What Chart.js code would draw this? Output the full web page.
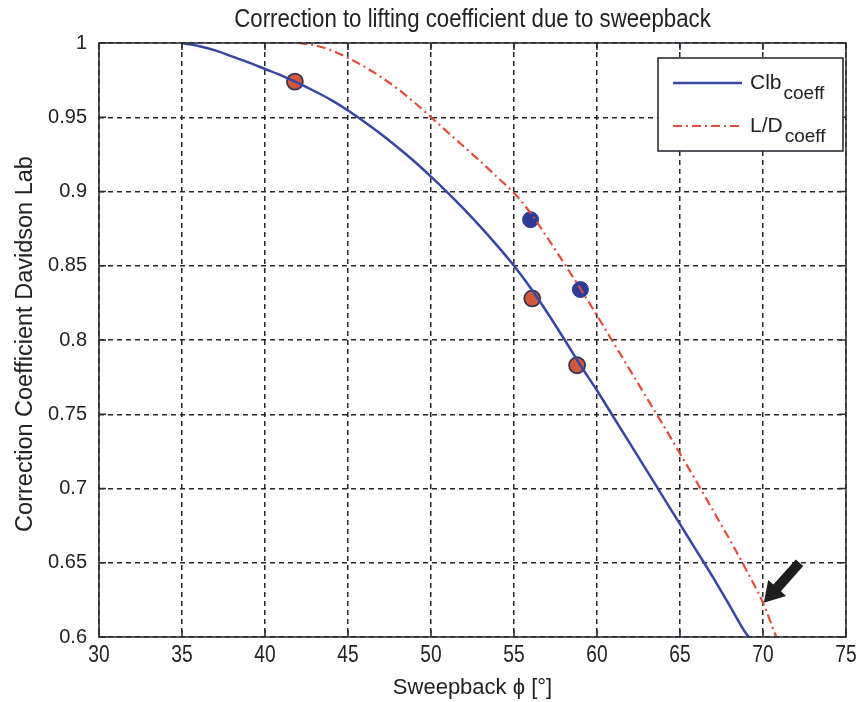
<!DOCTYPE html>
<html lang="en">
<head>
    <meta charset="UTF-8">
    <title>Correction to lifting coefficient due to sweepback</title>
    <script src="https://cdn.jsdelivr.net/npm/chart.js"></script>
    <style>
        html, body { margin: 0; padding: 0; background: #fff; }
        #wrap { width: 865px; height: 702px; }
    </style>
</head>
<body>
    <div id="wrap">
        <canvas id="sweepChart" width="865" height="702"></canvas>
    </div>

    <script>
        // Clb coefficient curve
        const clbSweep = [35, 36, 37, 38, 39, 40, 41, 42, 43, 44, 45, 46, 47, 48, 49, 50, 51, 52, 53, 54, 55, 56, 57, 58, 59, 60, 61, 62, 63, 64, 65, 66, 67, 68, 69, 69.15];
        const clbValues = [1.000, 0.998, 0.995, 0.991, 0.987, 0.9825, 0.978, 0.973, 0.9675, 0.9615, 0.9545, 0.9468, 0.9385, 0.9296, 0.9202, 0.910, 0.8993, 0.888, 0.876, 0.8634, 0.850, 0.835, 0.8185, 0.801, 0.783, 0.766, 0.748, 0.730, 0.712, 0.694, 0.676, 0.658, 0.640, 0.621, 0.602, 0.600];

        // L/D coefficient curve
        const ldSweep = [42, 43, 44, 45, 46, 47, 48, 49, 50, 51, 52, 53, 54, 55, 56, 57, 58, 59, 60, 61, 62, 63, 64, 65, 66, 67, 68, 69, 70, 70.8];
        const ldValues = [1.000, 0.9985, 0.995, 0.990, 0.984, 0.977, 0.969, 0.960, 0.950, 0.940, 0.930, 0.920, 0.9095, 0.899, 0.8855, 0.869, 0.852, 0.8345, 0.8165, 0.798, 0.7795, 0.761, 0.7425, 0.7235, 0.7045, 0.685, 0.6655, 0.645, 0.623, 0.600];

        // measured points
        const blueSweep = [56.0, 59.0];
        const blueValues = [0.881, 0.834];
        const orangeSweep = [41.8, 56.1, 58.8];
        const orangeValues = [0.974, 0.828, 0.783];

        // axis ticks
        const xTicks = [30, 35, 40, 45, 50, 55, 60, 65, 70, 75];
        const yTicks = [0.6, 0.65, 0.7, 0.75, 0.8, 0.85, 0.9, 0.95, 1];

        // arrow annotation (from -> to, in data units)
        const arrowFrom = [72.2, 0.650];
        const arrowTo = [70.05, 0.623];

        const toPoints = (xs, ys) => xs.map((x, i) => ({ x: x, y: ys[i] }));

        const BLUE = '#3746a2';
        const RED = '#df4f3b';
        const SANS = '"Liberation Sans", Arial, sans-serif';

        // draw text squeezed horizontally (the original uses a condensed face)
        function narrowText(ctx, text, x, y, squeeze) {
            ctx.save();
            ctx.translate(x, y);
            ctx.scale(squeeze, 1);
            ctx.fillText(text, 0, 0);
            ctx.restore();
        }

        // frame, ticks, texts, legend, arrow
        const decorPlugin = {
            id: 'decor',
            afterDraw(chart) {
                const ctx = chart.ctx;
                const a = chart.chartArea;
                const xs = chart.scales.x;
                const ys = chart.scales.y;
                ctx.save();

                // plot frame
                ctx.strokeStyle = '#2d2d35';
                ctx.lineWidth = 1.6;
                ctx.setLineDash([]);
                ctx.strokeRect(a.left, a.top, a.right - a.left, a.bottom - a.top);

                // inward tick marks
                ctx.beginPath();
                xTicks.forEach(t => {
                    const px = xs.getPixelForValue(t);
                    ctx.moveTo(px, a.bottom); ctx.lineTo(px, a.bottom - 7);
                    ctx.moveTo(px, a.top); ctx.lineTo(px, a.top + 7);
                });
                yTicks.forEach(t => {
                    const py = ys.getPixelForValue(t);
                    ctx.moveTo(a.left, py); ctx.lineTo(a.left + 7, py);
                    ctx.moveTo(a.right, py); ctx.lineTo(a.right - 7, py);
                });
                ctx.stroke();

                // x tick labels
                ctx.fillStyle = '#222';
                ctx.textAlign = 'center';
                ctx.textBaseline = 'alphabetic';
                ctx.font = '24px ' + SANS;
                xTicks.forEach(t => {
                    narrowText(ctx, String(t), xs.getPixelForValue(t), a.bottom + 25, 0.8);
                });

                // title
                ctx.font = '26px ' + SANS;
                narrowText(ctx, 'Correction to lifting coefficient due to sweepback', (a.left + a.right) / 2, 27, 0.855);

                // x axis title
                ctx.font = '22px ' + SANS;
                ctx.fillText('Sweepback \u03D5 [\u00B0]', (a.left + a.right) / 2, 694);

                // y axis title
                ctx.save();
                ctx.translate(32, 344);
                ctx.rotate(-Math.PI / 2);
                ctx.font = '23.5px ' + SANS;
                ctx.fillText('Correction Coefficient Davidson Lab', 0, 0);
                ctx.restore();

                // legend
                const lx = 658, ly = 58, lw = 185, lh = 93;
                ctx.fillStyle = '#fff';
                ctx.fillRect(lx, ly, lw, lh);
                ctx.strokeStyle = '#2d2d35';
                ctx.lineWidth = 1.6;
                ctx.strokeRect(lx, ly, lw, lh);

                ctx.lineWidth = 2.5;
                ctx.strokeStyle = BLUE;
                ctx.beginPath(); ctx.moveTo(673, 83); ctx.lineTo(742, 83); ctx.stroke();
                ctx.lineWidth = 2.2;
                ctx.strokeStyle = RED;
                ctx.setLineDash([9, 4, 2, 4]);
                ctx.beginPath(); ctx.moveTo(673, 126); ctx.lineTo(742, 126); ctx.stroke();
                ctx.setLineDash([]);

                ctx.fillStyle = '#222';
                ctx.textAlign = 'left';
                ctx.font = '21px ' + SANS;
                ctx.fillText('Clb', 750, 89);
                let w = ctx.measureText('Clb').width;
                ctx.font = '19px ' + SANS;
                ctx.fillText('coeff', 752 + w, 99);
                ctx.font = '21px ' + SANS;
                ctx.fillText('L/D', 750, 132);
                w = ctx.measureText('L/D').width;
                ctx.font = '19px ' + SANS;
                ctx.fillText('coeff', 752 + w, 142);

                // arrow
                const x0 = xs.getPixelForValue(arrowFrom[0]), y0 = ys.getPixelForValue(arrowFrom[1]);
                const x1 = xs.getPixelForValue(arrowTo[0]), y1 = ys.getPixelForValue(arrowTo[1]);
                const ang = Math.atan2(y1 - y0, x1 - x0);
                const len = Math.hypot(x1 - x0, y1 - y0);
                ctx.translate(x0, y0);
                ctx.rotate(ang);
                ctx.fillStyle = '#1e1e1e';
                ctx.beginPath();
                ctx.moveTo(0, -5);
                ctx.lineTo(len - 20, -5);
                ctx.lineTo(len - 20, -12);
                ctx.lineTo(len, 0);
                ctx.lineTo(len - 20, 12);
                ctx.lineTo(len - 20, 5);
                ctx.lineTo(0, 5);
                ctx.closePath();
                ctx.fill();

                ctx.restore();
            }
        };

        const ctx = document.getElementById('sweepChart').getContext('2d');
        const sweepChart = new Chart(ctx, {
            type: 'scatter',
            data: {
                datasets: [
                    {
                        label: 'Clb coeff',
                        data: toPoints(clbSweep, clbValues),
                        showLine: true,
                        borderColor: BLUE,
                        borderWidth: 2.5,
                        pointRadius: 0,
                        cubicInterpolationMode: 'monotone'
                    },
                    {
                        label: 'L/D coeff',
                        data: toPoints(ldSweep, ldValues),
                        showLine: true,
                        borderColor: RED,
                        borderWidth: 2.2,
                        borderDash: [9, 4, 2, 4],
                        pointRadius: 0,
                        cubicInterpolationMode: 'monotone'
                    },
                    {
                        label: 'points blue',
                        data: toPoints(blueSweep, blueValues),
                        showLine: false,
                        pointRadius: 8,
                        backgroundColor: '#2c3b95',
                        borderColor: '#2c3b95',
                        borderWidth: 1
                    },
                    {
                        label: 'points orange',
                        data: toPoints(orangeSweep, orangeValues),
                        showLine: false,
                        pointRadius: 8,
                        backgroundColor: '#d5583a',
                        borderColor: '#3b3452',
                        borderWidth: 1.8
                    }
                ]
            },
            options: {
                responsive: false,
                animation: false,
                layout: { padding: { top: 43, right: 19, left: 0, bottom: 0 } },
                plugins: {
                    legend: { display: false },
                    title: { display: false },
                    tooltip: { enabled: false }
                },
                scales: {
                    x: {
                        type: 'linear',
                        min: 30,
                        max: 75,
                        afterBuildTicks: (scale) => { scale.ticks = xTicks.map(v => ({ value: v })); },
                        afterFit: (scale) => { scale.height = 65; },
                        grid: { color: '#26262c', lineWidth: 1.5, drawTicks: false },
                        border: { display: false, dash: [5, 4] },
                        ticks: { display: false }
                    },
                    y: {
                        type: 'linear',
                        min: 0.6,
                        max: 1,
                        afterBuildTicks: (scale) => { scale.ticks = yTicks.map(v => ({ value: v })); },
                        afterFit: (scale) => { scale.width = 99; },
                        grid: { color: '#26262c', lineWidth: 1.5, drawTicks: false },
                        border: { display: false, dash: [5, 4] },
                        ticks: {
                            padding: 12,
                            color: '#222',
                            font: { family: SANS, size: 20 },
                            callback: (v) => String(Math.round(v * 100) / 100)
                        }
                    }
                }
            },
            plugins: [decorPlugin]
        });
    </script>
</body>
</html>
